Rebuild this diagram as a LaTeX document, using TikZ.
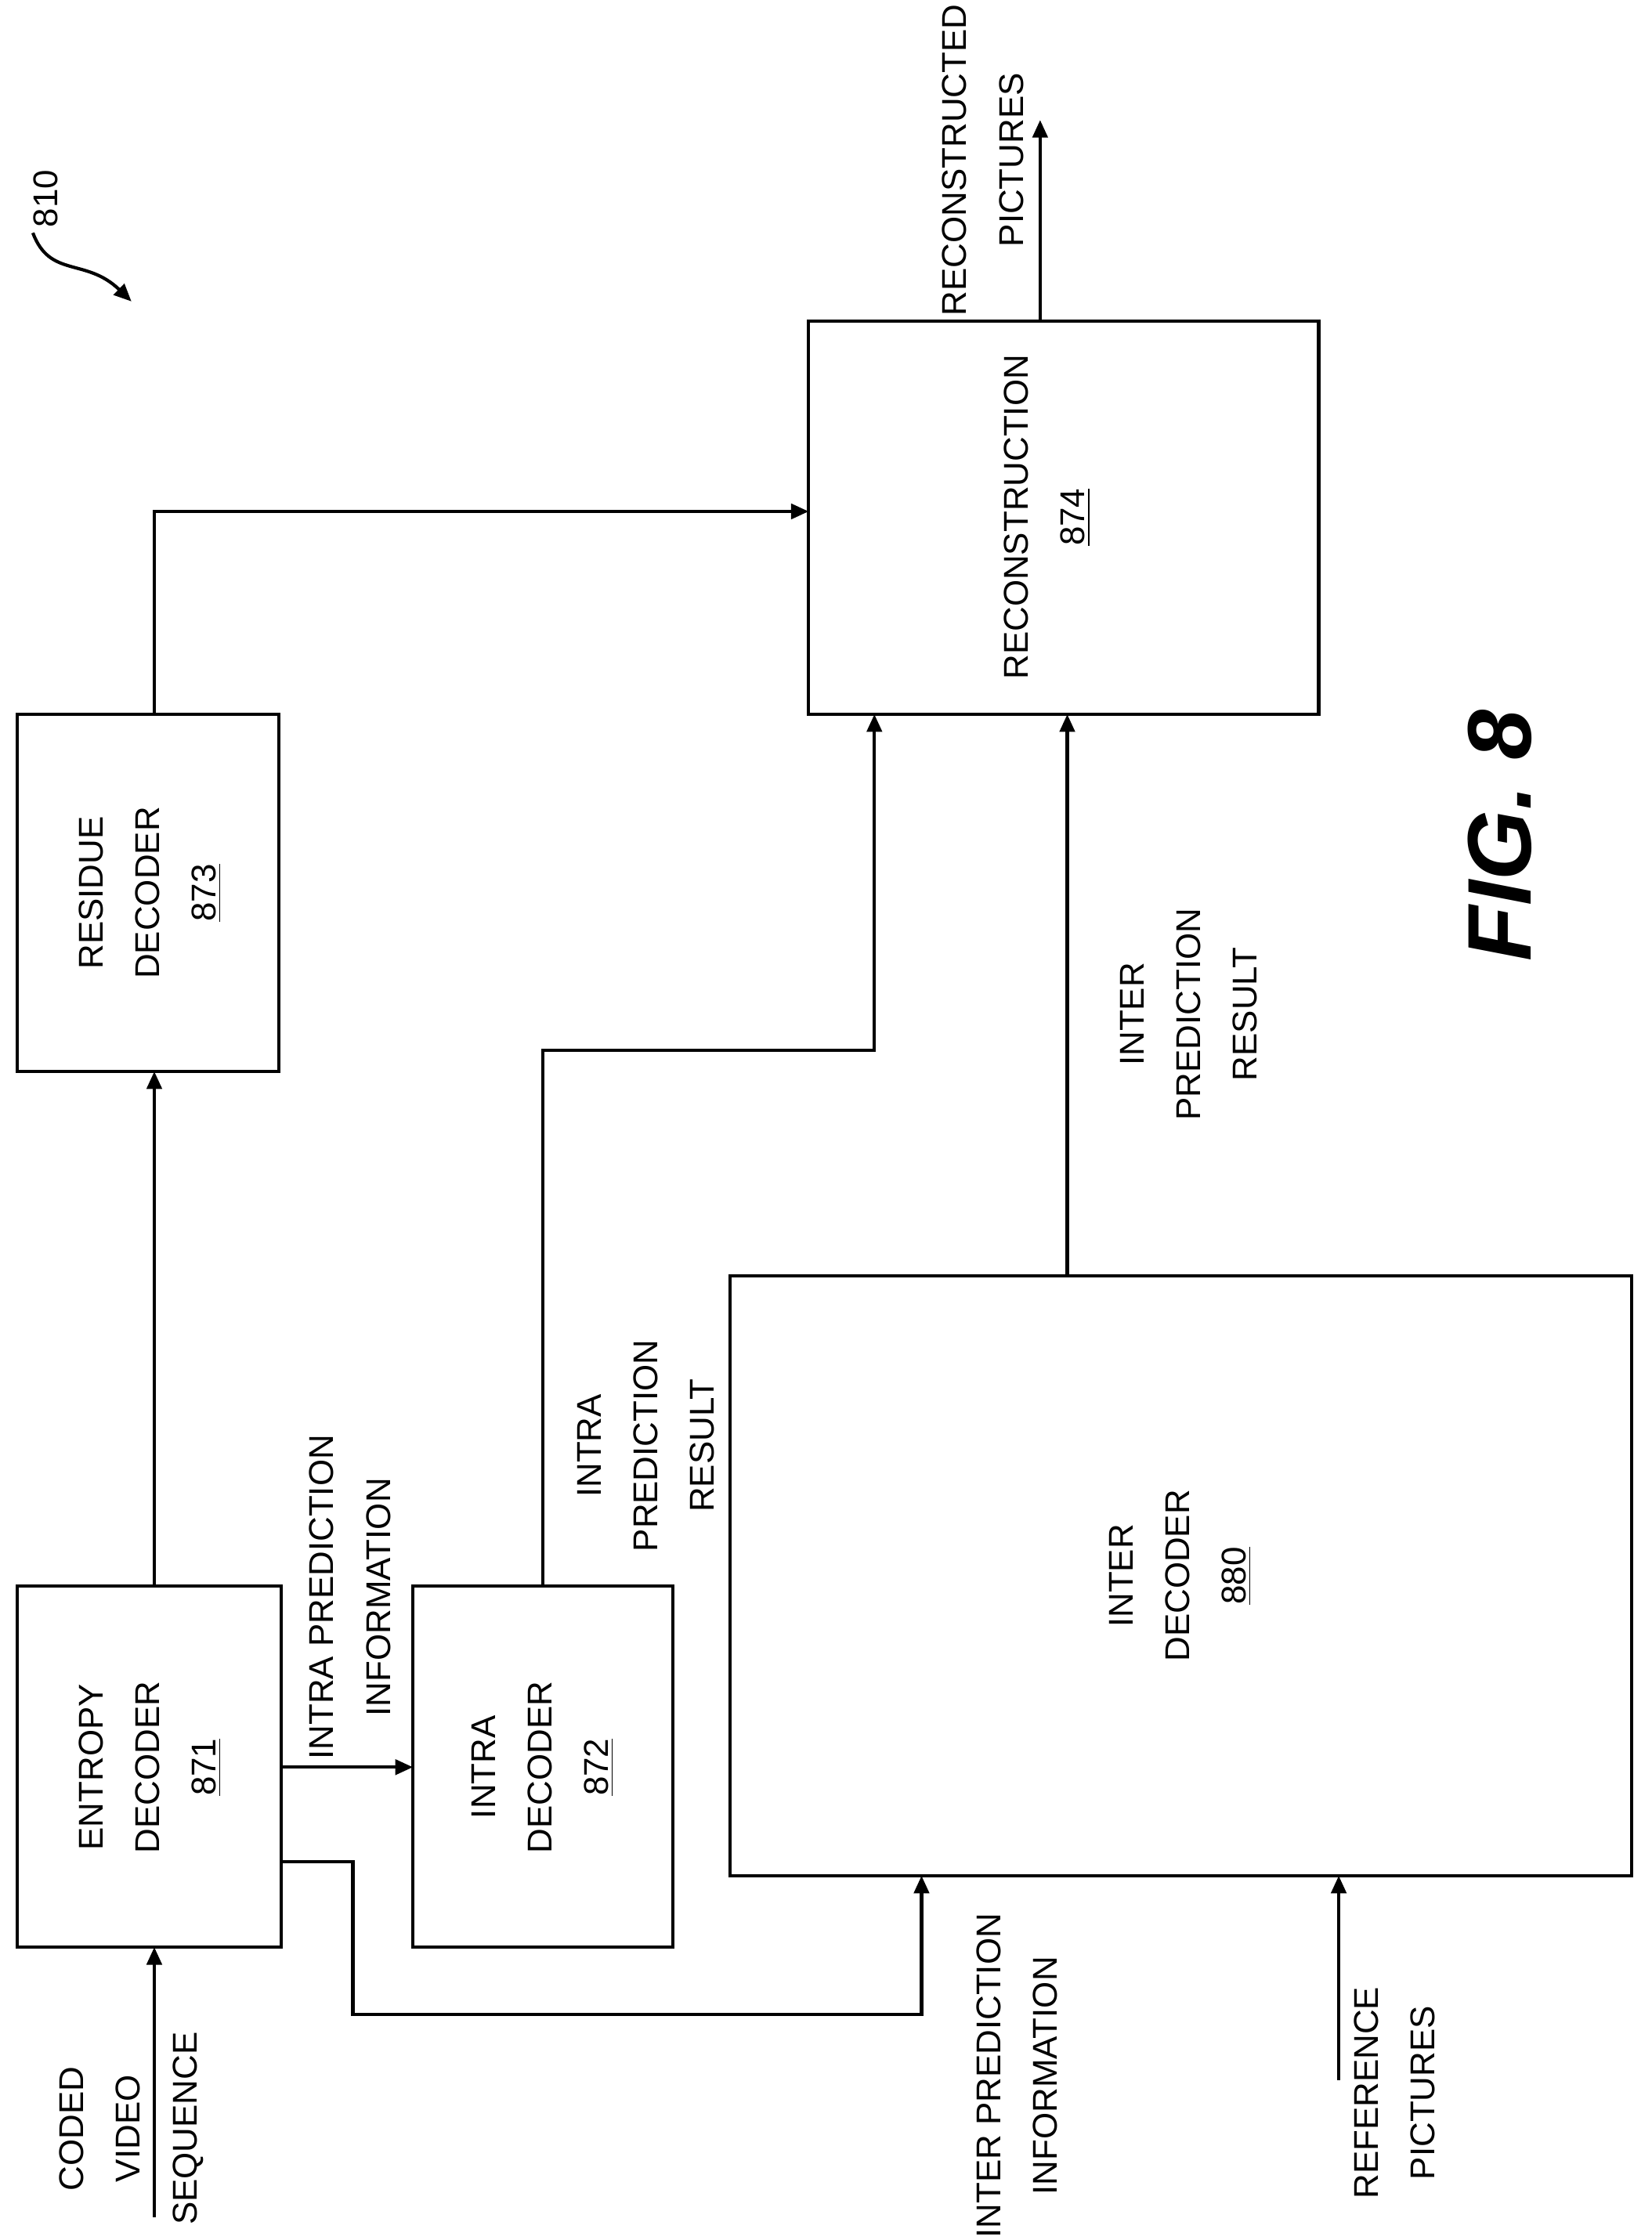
\documentclass[tikz,border=0pt]{standalone}
\usepackage{fontspec}
\setmainfont{Liberation Sans}
\usetikzlibrary{arrows.meta}
\begin{document}
\begin{tikzpicture}[x=0.02cm,y=-0.02cm,
  box/.style={draw,line width=1.3pt},
  ar/.style={line width=1.3pt,-{Triangle[length=7pt,width=6pt]}},
  ln/.style={line width=1.3pt},
  t/.style={rotate=90,align=center,font=\fontsize{13.7}{22.5}\selectfont,inner sep=0pt}]
\useasboundingbox (0,0) rectangle (1156,1568);
% boxes
\draw[box] (12,1110) rectangle (197,1363); \node[t] (ed) at (105,1237) {ENTROPY\\DECODER\\\underline{871}};
\draw[box] (289,1110) rectangle (471,1363); \node[t] (id) at (380,1237) {INTRA\\DECODER\\\underline{872}};
\draw[box] (12,500) rectangle (195,750); \node[t] (rd) at (105,625) {RESIDUE\\DECODER\\\underline{873}};
\draw[box] (566,225) rectangle (923,500); \node[t] (rc) at (733,362) {RECONSTRUCTION\\\underline{874}};
\draw[box] (511,893) rectangle (1142,1313); \node[t] (inter) at (826,1103) {INTER\\DECODER\\\underline{880}};
% connectors
\coordinate (cin) at (108,1552);
\draw[ar] (cin) -- (108,1363);
\node[t] at (92,1490) {CODED\\VIDEO\\SEQUENCE};
\draw[ar] (108,1110) -- (108,750);
\draw[ar] (108,500) -- (108,358) -- (566,358);
\draw[ar] (197,1237) -- (289,1237);
\node[t] at (245,1118) {INTRA PREDICTION\\INFORMATION};
\draw[ar] (197,1303) -- (247,1303) -- (247,1410) -- (645,1410) -- (645,1313);
\node[t] at (712,1453) {INTER PREDICTION\\INFORMATION};
\draw[ar] (937,1456) -- (937,1313);
\node[t] at (976,1465) {REFERENCE\\PICTURES};
\draw[ar] (380,1110) -- (380,735) -- (612,735) -- (612,500);
\node[t] at (452,1012) {INTRA\\PREDICTION\\RESULT};
\draw[ar] (747,893) -- (747,500);
\node[t] at (832,710) {INTER\\PREDICTION\\RESULT};
\draw[ar] (728,225) -- (728,84);
\node[t] at (688,112) {RECONSTRUCTED\\PICTURES};
\node[t] at (32,139) {810};
\draw[ar] (23,163) .. controls (35,195) and (60,180) .. (92,211);
\node[rotate=90,font=\fontsize{36}{40}\selectfont\bfseries\itshape] at (1050,585) {FIG. 8};
\end{tikzpicture}
\end{document}
